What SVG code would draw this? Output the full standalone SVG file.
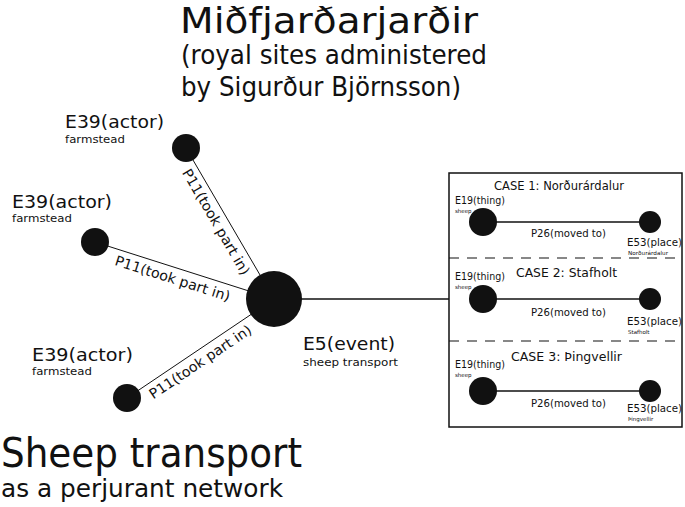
<svg xmlns="http://www.w3.org/2000/svg" width="685" height="507" viewBox="0 0 685 507">
<style>
text{font-family:"DejaVu Sans","Liberation Sans",sans-serif;fill:#111}
.node{fill:#111}
.thin{stroke:#111;stroke-width:1;fill:none}
.mid{stroke:#111;stroke-width:1.5;fill:none}
.dash{stroke:#111;stroke-width:1.2;stroke-dasharray:10 8;fill:none}
.lbl{font-size:14px}
.big{font-size:18px}
.sub{font-size:11px}
.ct{font-size:13px}
.cs{font-size:11px}
.tiny{font-size:5.5px}
</style>
<rect width="685" height="507" fill="#fff"/>
<g id="title">
<text x="180" y="33" font-size="35" textLength="298" lengthAdjust="spacingAndGlyphs">Miðfjarðarjarðir</text>
<text x="181" y="64" font-size="27" textLength="306" lengthAdjust="spacingAndGlyphs">(royal sites administered</text>
<text x="181" y="96" font-size="27" textLength="280" lengthAdjust="spacingAndGlyphs">by Sigurður Björnsson)</text>
</g>
<g id="footer">
<text x="1" y="467" font-size="40" textLength="301" lengthAdjust="spacingAndGlyphs">Sheep transport</text>
<text x="1" y="497" font-size="25" textLength="282" lengthAdjust="spacingAndGlyphs">as a perjurant network</text>
</g>
<g id="connectors">
<line class="thin" x1="186" y1="148" x2="274" y2="299"/>
<line class="thin" x1="95" y1="242" x2="274" y2="299"/>
<line class="thin" x1="127" y1="398" x2="274" y2="299"/>
<line class="mid" x1="274" y1="299" x2="449" y2="299"/>
<line class="mid" x1="483" y1="222" x2="650" y2="222"/>
<line class="mid" x1="483" y1="299" x2="650" y2="299"/>
<line class="mid" x1="483" y1="391" x2="650" y2="391"/>
<g transform="translate(186 148) rotate(59.8)"><text class="lbl" x="19" y="16" textLength="120" lengthAdjust="spacingAndGlyphs">P11(took part in)</text></g>
<g transform="translate(95 242) rotate(17.7)"><text class="lbl" x="25" y="16" textLength="120" lengthAdjust="spacingAndGlyphs">P11(took part in)</text></g>
<g transform="translate(127 398) rotate(-34)"><text class="lbl" x="21" y="16" textLength="120" lengthAdjust="spacingAndGlyphs">P11(took part in)</text></g>
</g>
<g id="actor1">
<circle class="node" cx="186" cy="148" r="14"/>
<text class="big" x="65" y="128" textLength="99" lengthAdjust="spacingAndGlyphs">E39(actor)</text>
<text class="sub" x="65" y="143" textLength="60" lengthAdjust="spacingAndGlyphs">farmstead</text>
</g>
<g id="actor2">
<circle class="node" cx="95" cy="242" r="14"/>
<text class="big" x="12" y="208" textLength="100" lengthAdjust="spacingAndGlyphs">E39(actor)</text>
<text class="sub" x="12" y="222" textLength="60" lengthAdjust="spacingAndGlyphs">farmstead</text>
</g>
<g id="actor3">
<circle class="node" cx="127" cy="398" r="14"/>
<text class="big" x="32" y="361" textLength="101" lengthAdjust="spacingAndGlyphs">E39(actor)</text>
<text class="sub" x="32" y="375" textLength="60" lengthAdjust="spacingAndGlyphs">farmstead</text>
</g>
<g id="event">
<circle class="node" cx="274" cy="299" r="28"/>
<text class="big" x="303" y="350" textLength="92" lengthAdjust="spacingAndGlyphs">E5(event)</text>
<text class="sub" x="303" y="366" textLength="95" lengthAdjust="spacingAndGlyphs">sheep transport</text>
</g>
<g id="cases">
<rect class="mid" x="449" y="173" width="233" height="254"/>
<line class="dash" x1="449" y1="258" x2="682" y2="258"/>
<line class="dash" x1="449" y1="341" x2="682" y2="341"/>
</g>
<g id="case1">
<text class="ct" x="494" y="190" textLength="130" lengthAdjust="spacingAndGlyphs">CASE 1: Norðurárdalur</text>
<g id="thing1"><circle class="node" cx="483" cy="222" r="14"/>
<text class="cs" x="455" y="204" textLength="50" lengthAdjust="spacingAndGlyphs">E19(thing)</text>
<text class="tiny" x="455" y="213">sheep</text></g>
<text class="cs" x="531" y="237" textLength="75" lengthAdjust="spacingAndGlyphs">P26(moved to)</text>
<g id="place1"><circle class="node" cx="650" cy="222" r="11"/>
<text class="cs" x="627" y="246" textLength="55" lengthAdjust="spacingAndGlyphs">E53(place)</text>
<text class="tiny" x="628" y="254.5" textLength="40" lengthAdjust="spacingAndGlyphs">Norðurárdalur</text></g>
</g>
<g id="case2">
<text class="ct" x="516" y="277" textLength="101" lengthAdjust="spacingAndGlyphs">CASE 2: Stafholt</text>
<g id="thing2"><circle class="node" cx="483" cy="299" r="14"/>
<text class="cs" x="455" y="280" textLength="50" lengthAdjust="spacingAndGlyphs">E19(thing)</text>
<text class="tiny" x="455" y="289">sheep</text></g>
<text class="cs" x="531" y="316" textLength="75" lengthAdjust="spacingAndGlyphs">P26(moved to)</text>
<g id="place2"><circle class="node" cx="650" cy="299" r="11"/>
<text class="cs" x="627" y="325" textLength="55" lengthAdjust="spacingAndGlyphs">E53(place)</text>
<text class="tiny" x="628" y="333.5">Stafholt</text></g>
</g>
<g id="case3">
<text class="ct" x="511" y="361" textLength="111" lengthAdjust="spacingAndGlyphs">CASE 3: Þingvellir</text>
<g id="thing3"><circle class="node" cx="483" cy="391" r="14"/>
<text class="cs" x="455" y="368" textLength="50" lengthAdjust="spacingAndGlyphs">E19(thing)</text>
<text class="tiny" x="455" y="377">sheep</text></g>
<text class="cs" x="531" y="407" textLength="75" lengthAdjust="spacingAndGlyphs">P26(moved to)</text>
<g id="place3"><circle class="node" cx="650" cy="391" r="11"/>
<text class="cs" x="627" y="412" textLength="55" lengthAdjust="spacingAndGlyphs">E53(place)</text>
<text class="tiny" x="628" y="420.5">Þingvellir</text></g>
</g>
</svg>
